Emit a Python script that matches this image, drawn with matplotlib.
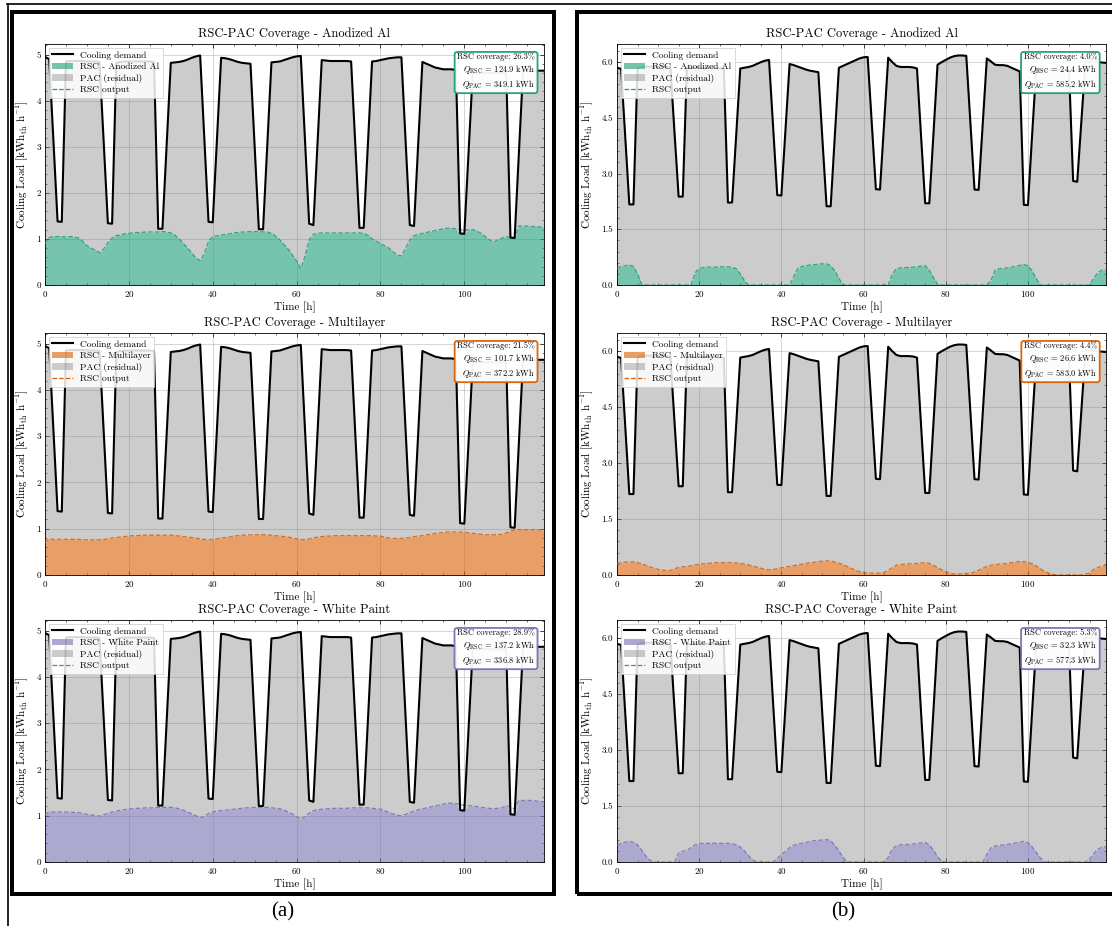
import numpy as np
import matplotlib
matplotlib.use("Agg")
import matplotlib.pyplot as plt
from matplotlib.patches import Rectangle, Patch
from matplotlib.lines import Line2D
from matplotlib.ticker import MultipleLocator, AutoMinorLocator, FormatStrFormatter

plt.rcParams["font.family"] = ["cmr10", "DejaVu Serif"]
plt.rcParams["mathtext.fontset"] = "cm"
plt.rcParams["axes.unicode_minus"] = False
plt.rcParams["axes.formatter.use_mathtext"] = True

# ---------------- data ----------------
hours = list(range(120))

demand_a = [4.95, 4.90, 3.15, 1.38, 1.37, 4.85, 4.86, 4.86, 4.86, 4.86, 4.85, 4.85,
            4.85, 4.84, 3.10, 1.34, 1.33, 4.82, 4.84, 4.85, 4.85, 4.85, 4.85, 4.85,
            4.85, 4.85, 4.84, 1.22, 1.22, 3.02, 4.82, 4.83, 4.84, 4.86, 4.89, 4.93,
            4.96, 4.98, 3.17, 1.37, 1.36, 3.15, 4.93, 4.92, 4.90, 4.87, 4.84, 4.82,
            4.81, 4.80, 3.00, 1.21, 1.21, 3.02, 4.83, 4.84, 4.85, 4.88, 4.91, 4.94,
            4.96, 4.97, 3.15, 1.33, 1.30, 3.09, 4.88, 4.87, 4.86, 4.86, 4.86, 4.86,
            4.86, 4.85, 3.05, 1.24, 1.24, 3.05, 4.85, 4.86, 4.88, 4.90, 4.92, 4.93,
            4.94, 4.94, 3.12, 1.30, 1.28, 3.06, 4.84, 4.80, 4.76, 4.72, 4.70, 4.68,
            4.68, 4.68, 4.66, 1.12, 1.11, 2.86, 4.60, 4.60, 4.60, 4.60, 4.60, 4.60,
            4.60, 4.60, 4.60, 1.03, 1.02, 2.84, 4.65, 4.65, 4.65, 4.65, 4.65, 4.65]

demand_b = [5.85, 5.82, 4.00, 2.17, 2.17, 5.85, 5.88, 5.88, 5.88, 5.88, 5.88, 5.87,
            5.87, 5.86, 4.10, 2.38, 2.38, 5.85, 5.85, 5.85, 5.85, 5.85, 5.85, 5.85,
            5.84, 5.84, 5.83, 2.22, 2.22, 4.02, 5.83, 5.85, 5.87, 5.90, 5.95, 6.00,
            6.04, 6.06, 4.24, 2.42, 2.41, 4.18, 5.95, 5.92, 5.88, 5.84, 5.80, 5.77,
            5.75, 5.73, 3.90, 2.12, 2.12, 4.00, 5.85, 5.90, 5.95, 6.00, 6.05, 6.10,
            6.13, 6.14, 4.36, 2.58, 2.57, 4.35, 6.12, 6.00, 5.90, 5.87, 5.87, 5.87,
            5.86, 5.83, 4.00, 2.20, 2.20, 4.05, 5.93, 6.00, 6.06, 6.12, 6.16, 6.18,
            6.18, 6.17, 4.37, 2.57, 2.56, 4.33, 6.10, 6.02, 5.93, 5.92, 5.92, 5.90,
            5.85, 5.80, 5.75, 2.16, 2.15, 4.00, 5.80, 5.80, 5.80, 5.80, 5.80, 5.80,
            5.80, 5.80, 5.80, 2.80, 2.78, 4.40, 6.02, 6.02, 6.01, 6.00, 5.99, 5.98]

rsc_a_anodized = [0.90, 1.03, 1.05, 1.05, 1.05, 1.04, 1.05, 1.04, 1.02, 0.95, 0.85, 0.80,
                  0.76, 0.70, 0.78, 0.92, 1.02, 1.07, 1.09, 1.11, 1.12, 1.13, 1.14, 1.14,
                  1.15, 1.15, 1.15, 1.15, 1.16, 1.15, 1.13, 1.08, 1.00, 0.90, 0.80, 0.70,
                  0.58, 0.53, 0.68, 0.95, 1.05, 1.07, 1.08, 1.10, 1.11, 1.13, 1.14, 1.15,
                  1.15, 1.16, 1.16, 1.16, 1.15, 1.15, 1.12, 1.06, 0.98, 0.88, 0.78, 0.65,
                  0.52, 0.36, 0.62, 0.98, 1.10, 1.12, 1.13, 1.13, 1.13, 1.13, 1.13, 1.13,
                  1.13, 1.13, 1.13, 1.13, 1.12, 1.08, 1.00, 0.95, 0.90, 0.85, 0.80, 0.72,
                  0.65, 0.63, 0.80, 0.98, 1.07, 1.10, 1.12, 1.14, 1.16, 1.18, 1.20, 1.22,
                  1.23, 1.23, 1.22, 1.20, 1.18, 1.20, 1.20, 1.17, 1.12, 1.05, 0.98, 0.93,
                  0.98, 1.02, 1.05, 1.03, 1.02, 1.28, 1.28, 1.28, 1.27, 1.27, 1.26, 1.25]

rsc_a_multilayer = [0.70, 0.78, 0.77, 0.77, 0.77, 0.77, 0.77, 0.77, 0.77, 0.76, 0.76, 0.76,
                    0.76, 0.76, 0.77, 0.78, 0.80, 0.81, 0.82, 0.83, 0.84, 0.85, 0.85, 0.86,
                    0.86, 0.86, 0.86, 0.86, 0.86, 0.86, 0.86, 0.85, 0.84, 0.83, 0.82, 0.81,
                    0.80, 0.78, 0.77, 0.76, 0.77, 0.78, 0.80, 0.81, 0.82, 0.84, 0.85, 0.86,
                    0.86, 0.87, 0.87, 0.87, 0.87, 0.86, 0.86, 0.85, 0.84, 0.83, 0.82, 0.80,
                    0.78, 0.77, 0.76, 0.78, 0.80, 0.82, 0.83, 0.84, 0.84, 0.85, 0.85, 0.85,
                    0.85, 0.85, 0.85, 0.85, 0.85, 0.85, 0.85, 0.84, 0.84, 0.82, 0.80, 0.79,
                    0.79, 0.79, 0.80, 0.81, 0.83, 0.84, 0.85, 0.87, 0.88, 0.90, 0.91, 0.92,
                    0.93, 0.93, 0.93, 0.93, 0.92, 0.91, 0.90, 0.89, 0.88, 0.87, 0.87, 0.87,
                    0.87, 0.88, 0.91, 0.95, 0.97, 0.98, 0.98, 0.98, 0.98, 0.98, 0.97, 0.97]

rsc_a_white = [1.02, 1.08, 1.08, 1.08, 1.08, 1.08, 1.08, 1.07, 1.07, 1.05, 1.03, 1.02,
               1.00, 0.99, 1.02, 1.05, 1.08, 1.10, 1.12, 1.13, 1.15, 1.15, 1.16, 1.16,
               1.17, 1.17, 1.17, 1.18, 1.18, 1.18, 1.18, 1.17, 1.15, 1.12, 1.08, 1.04,
               1.00, 0.96, 0.98, 1.05, 1.08, 1.10, 1.11, 1.12, 1.13, 1.14, 1.15, 1.16,
               1.17, 1.17, 1.18, 1.18, 1.18, 1.18, 1.17, 1.16, 1.15, 1.12, 1.08, 1.04,
               0.98, 0.93, 0.98, 1.06, 1.11, 1.13, 1.14, 1.15, 1.15, 1.16, 1.16, 1.16,
               1.16, 1.17, 1.17, 1.17, 1.17, 1.17, 1.16, 1.15, 1.14, 1.11, 1.07, 1.04,
               1.01, 1.00, 1.03, 1.07, 1.10, 1.13, 1.15, 1.17, 1.19, 1.21, 1.23, 1.25,
               1.27, 1.27, 1.26, 1.25, 1.22, 1.22, 1.21, 1.20, 1.18, 1.17, 1.16, 1.15,
               1.16, 1.17, 1.22, 1.18, 1.15, 1.33, 1.33, 1.33, 1.33, 1.32, 1.31, 1.30]

rsc_b_anodized = [0.45, 0.50, 0.52, 0.54, 0.50, 0.30, 0.02, 0.00, 0.00, 0.00, 0.00, 0.00,
                  0.00, 0.00, 0.00, 0.00, 0.00, 0.00, 0.00, 0.33, 0.44, 0.47, 0.48, 0.48,
                  0.48, 0.49, 0.49, 0.49, 0.48, 0.44, 0.30, 0.12, 0.00, 0.00, 0.00, 0.00,
                  0.00, 0.00, 0.00, 0.00, 0.00, 0.00, 0.00, 0.22, 0.45, 0.50, 0.52, 0.54,
                  0.55, 0.56, 0.57, 0.57, 0.52, 0.38, 0.18, 0.00, 0.00, 0.00, 0.00, 0.00,
                  0.00, 0.00, 0.00, 0.00, 0.00, 0.00, 0.00, 0.30, 0.44, 0.46, 0.47, 0.47,
                  0.48, 0.49, 0.51, 0.52, 0.40, 0.20, 0.02, 0.00, 0.00, 0.00, 0.00, 0.00,
                  0.00, 0.00, 0.00, 0.00, 0.00, 0.00, 0.00, 0.12, 0.40, 0.44, 0.45, 0.46,
                  0.48, 0.50, 0.53, 0.55, 0.52, 0.38, 0.18, 0.00, 0.00, 0.00, 0.00, 0.00,
                  0.00, 0.00, 0.00, 0.00, 0.00, 0.00, 0.00, 0.00, 0.18, 0.33, 0.40, 0.40]

rsc_b_multilayer = [0.30, 0.33, 0.35, 0.35, 0.35, 0.33, 0.30, 0.26, 0.22, 0.18, 0.15, 0.13,
                    0.12, 0.12, 0.17, 0.20, 0.22, 0.23, 0.25, 0.27, 0.29, 0.30, 0.31, 0.32,
                    0.33, 0.33, 0.33, 0.33, 0.33, 0.32, 0.31, 0.29, 0.27, 0.24, 0.21, 0.18,
                    0.15, 0.14, 0.15, 0.17, 0.19, 0.21, 0.23, 0.25, 0.27, 0.29, 0.31, 0.33,
                    0.34, 0.36, 0.37, 0.38, 0.37, 0.35, 0.32, 0.28, 0.23, 0.18, 0.13, 0.09,
                    0.07, 0.05, 0.05, 0.05, 0.05, 0.07, 0.12, 0.20, 0.26, 0.28, 0.29, 0.30,
                    0.30, 0.31, 0.32, 0.33, 0.31, 0.26, 0.20, 0.14, 0.09, 0.05, 0.03, 0.03,
                    0.03, 0.04, 0.05, 0.08, 0.13, 0.18, 0.23, 0.26, 0.28, 0.29, 0.30, 0.31,
                    0.33, 0.35, 0.36, 0.36, 0.34, 0.30, 0.24, 0.17, 0.10, 0.05, 0.02, 0.00,
                    0.00, 0.00, 0.00, 0.00, 0.00, 0.00, 0.02, 0.06, 0.15, 0.20, 0.24, 0.25]

rsc_b_white = [0.45, 0.50, 0.53, 0.55, 0.53, 0.46, 0.32, 0.16, 0.05, 0.00, 0.00, 0.00,
               0.00, 0.00, 0.00, 0.24, 0.29, 0.31, 0.38, 0.46, 0.49, 0.50, 0.50, 0.50,
               0.50, 0.50, 0.50, 0.50, 0.49, 0.46, 0.40, 0.30, 0.17, 0.06, 0.00, 0.00,
               0.00, 0.00, 0.00, 0.10, 0.19, 0.29, 0.38, 0.45, 0.48, 0.50, 0.52, 0.55,
               0.57, 0.58, 0.59, 0.60, 0.57, 0.45, 0.30, 0.13, 0.00, 0.00, 0.00, 0.00,
               0.00, 0.00, 0.00, 0.00, 0.00, 0.00, 0.12, 0.35, 0.44, 0.46, 0.47, 0.47,
               0.48, 0.49, 0.51, 0.52, 0.46, 0.32, 0.14, 0.02, 0.00, 0.00, 0.00, 0.00,
               0.00, 0.00, 0.00, 0.00, 0.00, 0.00, 0.20, 0.38, 0.43, 0.44, 0.46, 0.47,
               0.49, 0.51, 0.53, 0.55, 0.52, 0.41, 0.26, 0.11, 0.00, 0.00, 0.00, 0.00,
               0.00, 0.00, 0.00, 0.00, 0.00, 0.00, 0.00, 0.08, 0.22, 0.34, 0.40, 0.41]

materials = ["Anodized Al", "Multilayer", "White Paint"]
material_colors = ["#1b9e77", "#d95f02", "#7570b3"]

coverage_a = [26.3, 21.5, 28.9]
q_rsc_a = [124.9, 101.7, 137.2]
q_pac_a = [349.1, 372.2, 336.8]

coverage_b = [4.0, 4.4, 5.3]
q_rsc_b = [24.4, 26.6, 32.3]
q_pac_b = [585.2, 583.0, 577.3]

panel_labels = ["(a)", "(b)"]

# ---------------- figure ----------------
W, H = 1112, 926
fig = plt.figure(figsize=(W / 100, H / 100), dpi=100)


def fx(px):
    return px / W


def fy(py):
    return 1 - py / H


def axrect(l, t, r, b):
    return [fx(l), fy(b), fx(r) - fx(l), fy(t) - fy(b)]


rows = [(44, 285), (333, 575), (620, 862)]
cols = [(45, 544), (617, 1106)]


def draw(ax, dem, rsc, mat, col, cov, qr, qp, ystep, yfmt):
    t = np.array(hours, dtype=float)
    dem = np.array(dem)
    rsc = np.array(rsc)
    covered = np.minimum(rsc, dem)
    ax.fill_between(t, 0, covered, color=col, alpha=0.6, lw=0, zorder=2)
    ax.fill_between(t, covered, dem, color="#808080", alpha=0.4, lw=0, zorder=2)
    ax.plot(t, dem, color="black", lw=1.5, zorder=4)
    ax.plot(t, rsc, color=col, lw=0.9, ls="--", alpha=0.85, zorder=3)
    ax.set_xlim(t[0], t[-1])
    ax.set_ylim(0, max(dem) * 1.05)
    ax.yaxis.set_major_locator(MultipleLocator(ystep))
    ax.yaxis.set_major_formatter(FormatStrFormatter(yfmt))
    ax.xaxis.set_major_locator(MultipleLocator(20))
    ax.xaxis.set_minor_locator(AutoMinorLocator(4))
    ax.yaxis.set_minor_locator(AutoMinorLocator(5))
    ax.tick_params(which="both", direction="in", top=True, right=True, labelsize=6.5, pad=3)
    ax.tick_params(which="major", length=3, width=0.5)
    ax.tick_params(which="minor", length=1.5, width=0.4)
    for s in ax.spines.values():
        s.set_linewidth(0.6)
    ax.grid(True, which="major", color="0.55", lw=0.5, alpha=0.5, zorder=1)
    ax.set_axisbelow(True)
    ax.set_title(f"RSC-PAC Coverage - {mat}", fontsize=9, pad=5)
    ax.set_xlabel("Time [h]", fontsize=8, labelpad=2)
    ax.set_ylabel(r"Cooling Load [kWh$_{\mathrm{th}}$ h$^{-1}$]", fontsize=8, labelpad=4)
    handles = [Line2D([], [], color="black", lw=1.5),
               Patch(facecolor=col, alpha=0.6, lw=0),
               Patch(facecolor="#808080", alpha=0.4, lw=0),
               Line2D([], [], color=col, lw=0.9, ls="--")]
    labels = ["Cooling demand", f"RSC - {mat}", "PAC (residual)", "RSC output"]
    leg = ax.legend(handles, labels, loc="upper left", fontsize=6.8, frameon=True,
                    fancybox=False, edgecolor="0.8", framealpha=0.85,
                    borderpad=0.35, labelspacing=0.3, handlelength=2.2,
                    handletextpad=0.8, borderaxespad=0.4)
    leg.get_frame().set_linewidth(0.6)
    leg.set_zorder(6)
    txt = (f"RSC coverage: {cov:.1f}%\n"
           f"$Q_{{\\mathrm{{RSC}}}}$ = {qr:.1f} kWh\n"
           f"$Q_{{\\mathrm{{PAC}}}}$ = {qp:.1f} kWh")
    ax.text(0.982, 0.965, txt, transform=ax.transAxes, ha="right", va="top",
            multialignment="right", fontsize=6.0, linespacing=1.2, zorder=7,
            bbox=dict(boxstyle="round,pad=0.3", facecolor="white", edgecolor=col,
                      linewidth=1.3, alpha=0.95))


panels = [
    (demand_a, [rsc_a_anodized, rsc_a_multilayer, rsc_a_white], coverage_a, q_rsc_a, q_pac_a, 1.0, "%d"),
    (demand_b, [rsc_b_anodized, rsc_b_multilayer, rsc_b_white], coverage_b, q_rsc_b, q_pac_b, 1.5, "%.1f"),
]

for ci, (dem, rscs, covs, qrs, qps, ystep, yfmt) in enumerate(panels):
    l, r = cols[ci]
    for ri in range(3):
        t, b = rows[ri]
        ax = fig.add_axes(axrect(l, t, r, b))
        draw(ax, dem, rscs[ri], materials[ri], material_colors[ri],
             covs[ri], qrs[ri], qps[ri], ystep, yfmt)

# panel frames and page lines
lw_thick = 4 * 72 / 100
fig.add_artist(Rectangle((fx(12), fy(894)), fx(554) - fx(12), fy(12) - fy(894),
                         transform=fig.transFigure, fill=False, edgecolor="black",
                         linewidth=lw_thick, clip_on=False))
fig.add_artist(Rectangle((fx(577), fy(894)), fx(1130) - fx(577), fy(12) - fy(894),
                         transform=fig.transFigure, fill=False, edgecolor="black",
                         linewidth=lw_thick, clip_on=False))
fig.add_artist(Line2D([fx(7), fx(1112)], [fy(4), fy(4)], transform=fig.transFigure,
                      color="black", lw=1.2))
fig.add_artist(Line2D([fx(7.5), fx(7.5)], [fy(4), fy(926)], transform=fig.transFigure,
                      color="black", lw=1.2))

fig.text(fx(283), fy(912), panel_labels[0], ha="center", va="center",
         fontsize=15, family=["Liberation Serif", "DejaVu Serif"])
fig.text(fx(843), fy(912), panel_labels[1], ha="center", va="center",
         fontsize=15, family=["Liberation Serif", "DejaVu Serif"])

fig.savefig("out.png", dpi=100)
